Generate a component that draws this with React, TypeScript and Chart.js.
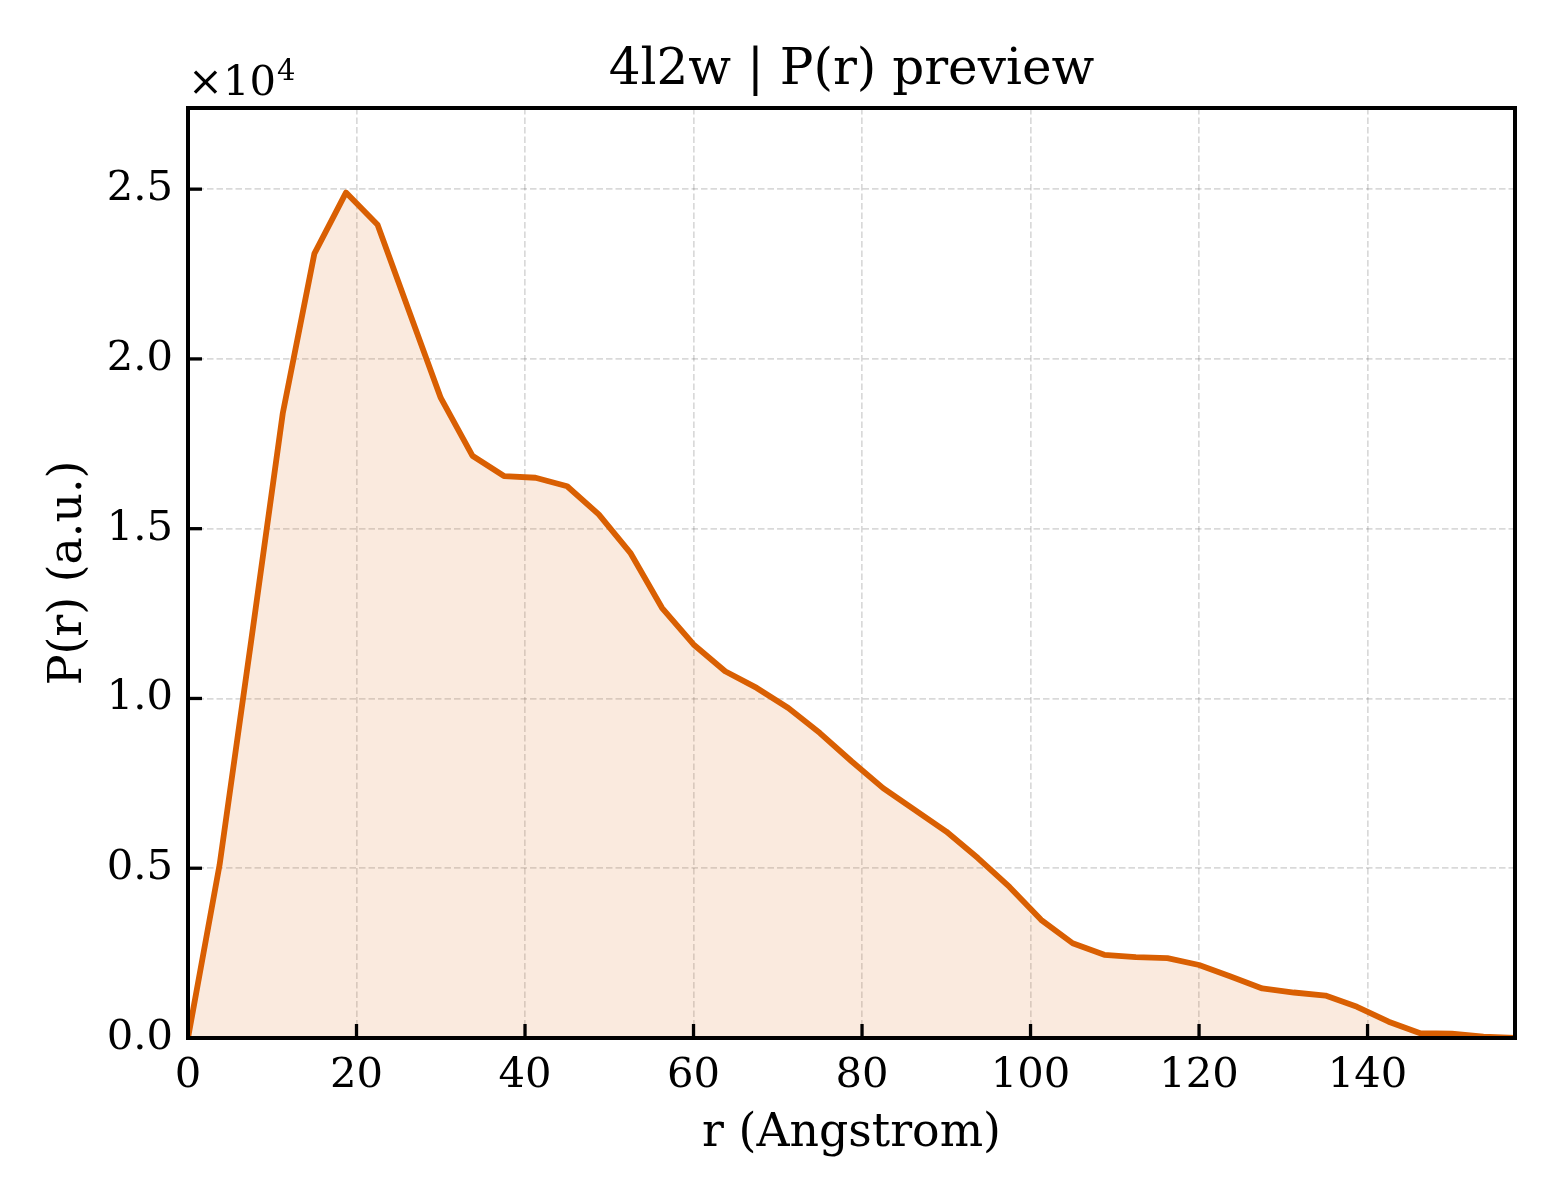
import React, { useEffect, useRef } from 'react';
import { Chart, registerables } from 'chart.js';

Chart.register(...registerables);

const rValues = [
  0, 3.75, 7.5, 11.25, 15, 18.75, 22.5, 26.25, 30, 33.75, 37.5, 41.25, 45, 48.75,
  52.5, 56.25, 60, 63.75, 67.5, 71.25, 75, 78.75, 82.5, 86.25, 90, 93.75, 97.5,
  101.25, 105, 108.75, 112.5, 116.25, 120, 123.75, 127.5, 131.25, 135, 138.75,
  142.5, 146.25, 150, 153.75, 157.5,
];

const prValues = [
  0, 5100, 11700, 18400, 23100, 24900, 23950, 21400, 18850, 17150, 16550, 16500,
  16250, 15420, 14290, 12670, 11590, 10800, 10310, 9720, 8980, 8150, 7360, 6720,
  6080, 5300, 4450, 3480, 2790, 2450, 2380, 2350, 2150, 1810, 1460, 1340, 1250,
  920, 480, 140, 130, 40, 0,
];

const xTicks = [0, 20, 40, 60, 80, 100, 120, 140];
const yTicks = [0, 5000, 10000, 15000, 20000, 25000];
const yTickLabels = ['0.0', '0.5', '1.0', '1.5', '2.0', '2.5'];

const titleText = '4l2w | P(r) preview';
const xTitle = 'r (Angstrom)';
const yTitle = 'P(r) (a.u.)';
const offsetBase = '×10';
const offsetExp = '4';

const FONT = 'DejaVu Serif';
const LINE_COLOR = '#D95F02';
const FILL_COLOR = 'rgba(217,95,2,0.13)';
const GRID_COLOR = 'rgba(0,0,0,0.15)';

const framePlugin = {
  id: 'framePlugin',
  afterDraw(chart: any) {
    const { ctx, chartArea } = chart;
    const { left, right, top, bottom } = chartArea;
    const xs = chart.scales.x;
    const ys = chart.scales.y;
    ctx.save();
    ctx.strokeStyle = '#000';
    ctx.lineWidth = 3.3;
    ctx.lineCap = 'butt';
    xs.ticks.forEach((t: any) => {
      const px = xs.getPixelForValue(t.value);
      ctx.beginPath();
      ctx.moveTo(px, bottom);
      ctx.lineTo(px, bottom - 14);
      ctx.stroke();
    });
    ys.ticks.forEach((t: any) => {
      const py = ys.getPixelForValue(t.value);
      ctx.beginPath();
      ctx.moveTo(left, py);
      ctx.lineTo(left + 14, py);
      ctx.stroke();
    });
    ctx.lineWidth = 4;
    ctx.strokeRect(left, top, right - left, bottom - top);
    ctx.fillStyle = '#000';
    ctx.textAlign = 'left';
    ctx.textBaseline = 'alphabetic';
    ctx.font = `41.7px "${FONT}"`;
    ctx.fillText(offsetBase, left, 95);
    const w = ctx.measureText(offsetBase).width;
    ctx.font = `29px "${FONT}"`;
    ctx.fillText(offsetExp, left + w + 1, 80);
    ctx.restore();
  },
};

export default function App() {
  const canvasRef = useRef<HTMLCanvasElement | null>(null);

  useEffect(() => {
    if (!canvasRef.current) return;
    const points = rValues.map((r, i) => ({ x: r, y: prValues[i] }));
    const yMax = Math.max(...prValues) * 1.1;
    const chart = new Chart(canvasRef.current, {
      type: 'line',
      data: {
        datasets: [
          {
            data: points,
            borderColor: LINE_COLOR,
            backgroundColor: FILL_COLOR,
            fill: 'origin',
            borderWidth: 5.8,
            pointRadius: 0,
            tension: 0,
            borderJoinStyle: 'round',
            borderCapStyle: 'butt',
          } as any,
        ],
      },
      options: {
        animation: false,
        responsive: false,
        devicePixelRatio: 1,
        layout: { padding: { left: 0, right: 45, top: 0, bottom: 0 } },
        plugins: {
          legend: { display: false },
          tooltip: { enabled: false },
          title: {
            display: true,
            fullSize: false,
            text: titleText,
            color: '#000',
            font: { family: FONT, size: 50, weight: 'normal' },
            padding: { top: 41, bottom: 7 },
          },
        },
        scales: {
          x: {
            type: 'linear',
            min: 0,
            max: rValues[rValues.length - 1],
            afterFit: (s: any) => {
              s.height = 162;
            },
            afterBuildTicks: (s: any) => {
              s.ticks = xTicks.map((v) => ({ value: v }));
            },
            grid: { color: GRID_COLOR, lineWidth: 1.7, drawTicks: false, tickLength: 0 },
            border: { display: false, dash: [6.5, 3] },
            ticks: {
              color: '#000',
              font: { family: FONT, size: 41.7 },
              padding: 13,
              maxRotation: 0,
              autoSkip: false,
              callback: (v: any) => String(v),
            },
            title: {
              display: true,
              text: xTitle,
              color: '#000',
              font: { family: FONT, size: 45.8 },
              padding: { top: 38, bottom: 38 },
            },
          },
          y: {
            type: 'linear',
            min: 0,
            max: yMax,
            afterFit: (s: any) => {
              s.width = 188;
            },
            afterBuildTicks: (s: any) => {
              s.ticks = yTicks.map((v) => ({ value: v }));
            },
            grid: { color: GRID_COLOR, lineWidth: 1.7, drawTicks: false, tickLength: 0 },
            border: { display: false, dash: [6.5, 3] },
            ticks: {
              color: '#000',
              font: { family: FONT, size: 41.7 },
              padding: 15,
              autoSkip: false,
              callback: (v: any) => {
                const idx = yTicks.indexOf(Number(v));
                return idx >= 0 ? yTickLabels[idx] : '';
              },
            },
            title: {
              display: true,
              text: yTitle,
              color: '#000',
              font: { family: FONT, size: 45.8 },
              padding: { top: 42, bottom: 42 },
            },
          },
        },
      },
      plugins: [framePlugin],
    });
    return () => chart.destroy();
  }, []);

  return (
    <div style={{ position: 'absolute', left: 0, top: 0, width: 1560, height: 1200, background: '#fff' }}>
      <canvas ref={canvasRef} width={1560} height={1200} style={{ display: 'block' }} />
    </div>
  );
}
